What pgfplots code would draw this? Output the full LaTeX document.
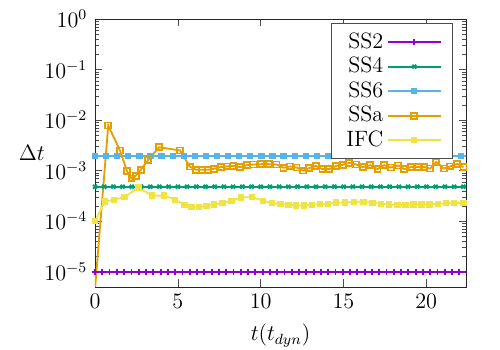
\documentclass[12pt,border=0pt]{standalone}
\usepackage{pgfplots}
\pgfplotsset{compat=1.18}
\definecolor{cSSii}{HTML}{9400D3}
\definecolor{cSSiv}{HTML}{009E73}
\definecolor{cSSvi}{HTML}{56B4E9}
\definecolor{cSSa}{HTML}{E69F00}
\definecolor{cIFC}{HTML}{F0E442}

\begin{document}
\begin{tikzpicture}
\begin{axis}[
  scale only axis,
  width=7.05cm, height=5.09cm,
  ymode=log,
  xmin=0, xmax=22.4,
  ymin=5e-6, ymax=1,
  xtick={0,5,10,15,20},
  ytick={1e-5,1e-4,1e-3,1e-2,1e-1,1},
  tick align=inside,
  tick style={black!70},
  major tick length=4pt, minor tick length=2pt,
  axis line style={black!85},
  xlabel={$t(t_{dyn})$},
  ylabel={$\Delta t$},
  ylabel style={rotate=-90, at={(rel axis cs:0,0.5)}, anchor=center, xshift=-1.2cm},
  xlabel style={yshift=0pt},
  legend style={at={(rel axis cs:0.965,0.985)}, anchor=north east,
    draw=black!70, row sep=-1pt, inner xsep=6pt, inner ysep=3pt},
  legend cell align=right,
  legend plot pos=right,
  legend image code/.code={\draw[mark repeat=2,mark phase=2] plot coordinates {(0cm,0cm) (0.5cm,0cm) (1.0cm,0cm)};},
]
% SS2
\addplot[cSSii, line width=1pt, mark=+, mark size=1.7pt] coordinates {
 (0,1e-5) (0.44,1e-5) (0.88,1e-5) (1.32,1e-5) (1.76,1e-5) (2.2,1e-5) (2.64,1e-5)
 (3.08,1e-5) (3.52,1e-5) (3.96,1e-5) (4.4,1e-5) (4.84,1e-5) (5.28,1e-5) (5.72,1e-5)
 (6.16,1e-5) (6.6,1e-5) (7.04,1e-5) (7.48,1e-5) (7.92,1e-5) (8.36,1e-5) (8.8,1e-5)
 (9.24,1e-5) (9.68,1e-5) (10.12,1e-5) (10.56,1e-5) (11,1e-5) (11.44,1e-5) (11.88,1e-5)
 (12.32,1e-5) (12.76,1e-5) (13.2,1e-5) (13.64,1e-5) (14.08,1e-5) (14.52,1e-5) (14.96,1e-5)
 (15.4,1e-5) (15.84,1e-5) (16.28,1e-5) (16.72,1e-5) (17.16,1e-5) (17.6,1e-5) (18.04,1e-5)
 (18.48,1e-5) (18.92,1e-5) (19.36,1e-5) (19.8,1e-5) (20.24,1e-5) (20.68,1e-5) (21.12,1e-5)
 (21.56,1e-5) (22,1e-5) (22.44,1e-5)
};
\addlegendentry{SS2}
% SS4
\addplot[cSSiv, line width=1pt, mark=x, mark size=1.5pt] coordinates {
 (0,4.8e-4) (0.556,4.8e-4) (1.112,4.8e-4) (1.668,4.8e-4) (2.224,4.8e-4) (2.78,4.8e-4)
 (3.336,4.8e-4) (3.892,4.8e-4) (4.448,4.8e-4) (5.004,4.8e-4) (5.56,4.8e-4) (6.116,4.8e-4)
 (6.672,4.8e-4) (7.228,4.8e-4) (7.784,4.8e-4) (8.34,4.8e-4) (8.896,4.8e-4) (9.452,4.8e-4)
 (10.008,4.8e-4) (10.564,4.8e-4) (11.12,4.8e-4) (11.676,4.8e-4) (12.232,4.8e-4) (12.788,4.8e-4)
 (13.344,4.8e-4) (13.9,4.8e-4) (14.456,4.8e-4) (15.012,4.8e-4) (15.568,4.8e-4) (16.124,4.8e-4)
 (16.68,4.8e-4) (17.236,4.8e-4) (17.792,4.8e-4) (18.348,4.8e-4) (18.904,4.8e-4) (19.46,4.8e-4)
 (20.016,4.8e-4) (20.572,4.8e-4) (21.128,4.8e-4) (21.684,4.8e-4) (22.24,4.8e-4) (22.796,4.8e-4)
};
\addlegendentry{SS4}
% SS6
\addplot[cSSvi, line width=1pt, mark=square*, mark size=1.2pt] coordinates {
 (0,1.95e-3) (0.67,1.95e-3) (1.34,1.95e-3) (2.01,1.95e-3) (2.68,1.95e-3) (3.35,1.95e-3)
 (4.02,1.95e-3) (4.69,1.95e-3) (5.36,1.95e-3) (6.03,1.95e-3) (6.7,1.95e-3) (7.37,1.95e-3)
 (8.04,1.95e-3) (8.71,1.95e-3) (9.38,1.95e-3) (10.05,1.95e-3) (10.72,1.95e-3) (11.39,1.95e-3)
 (12.06,1.95e-3) (12.73,1.95e-3) (13.4,1.95e-3) (14.07,1.95e-3) (14.74,1.95e-3) (15.41,1.95e-3)
 (16.08,1.95e-3) (16.75,1.95e-3) (17.42,1.95e-3) (18.09,1.95e-3) (18.76,1.95e-3) (19.43,1.95e-3)
 (20.1,1.95e-3) (20.77,1.95e-3) (21.44,1.95e-3) (22.11,1.95e-3) (22.78,1.95e-3)
};
\addlegendentry{SS6}
% SSa
\addplot[cSSa, line width=1pt, mark=square, mark size=1.6pt] coordinates {
 (0,4.5e-6) (0.80,7.8e-3) (1.51,2.5e-3) (1.93,9.8e-4) (2.21,7.0e-4) (2.46,7.9e-4)
 (2.76,1.04e-3) (3.20,1.61e-3) (3.87,2.9e-3) (5.14,2.5e-3) (5.72,1.2e-3) (6.10,1.04e-3)
 (6.47,1.04e-3) (6.81,1.04e-3) (7.19,1.09e-3) (7.59,1.17e-3) (7.96,1.21e-3) (8.36,1.24e-3)
 (8.76,1.17e-3) (9.17,1.28e-3) (9.57,1.32e-3) (10.03,1.34e-3) (10.51,1.34e-3) (10.96,1.32e-3)
 (11.38,1.14e-3) (11.78,1.21e-3) (12.17,1.15e-3) (12.57,1.0e-3) (12.93,1.12e-3) (13.33,1.24e-3)
 (13.73,1.07e-3) (14.14,1.07e-3) (14.56,1.24e-3) (14.96,1.30e-3) (15.35,1.43e-3) (15.77,1.32e-3)
 (16.17,1.17e-3) (16.62,1.28e-3) (17.06,1.07e-3) (17.46,1.28e-3) (17.87,1.15e-3) (18.31,1.26e-3)
 (18.67,1.07e-3) (19.08,1.17e-3) (19.49,1.17e-3) (19.90,1.17e-3) (20.24,1.10e-3) (20.60,1.49e-3)
 (21.05,1.10e-3) (21.45,1.21e-3) (21.87,1.36e-3) (22.25,1.17e-3)
};
\addlegendentry{SSa}
% IFC
\addplot[cIFC, line width=1pt, mark=square*, mark size=1.2pt] coordinates {
 (0,9.9e-5) (0.60,2.45e-4) (1.15,2.65e-4) (1.79,3.0e-4) (2.62,4.6e-4) (3.44,3.2e-4)
 (4.17,3.2e-4) (4.85,2.65e-4) (5.40,2.1e-4) (5.82,1.93e-4) (6.28,1.93e-4) (6.73,1.99e-4)
 (7.19,2.14e-4) (7.69,2.28e-4) (8.24,2.53e-4) (8.82,2.94e-4) (9.50,3.0e-4) (10.13,2.53e-4)
 (10.68,2.28e-4) (11.20,2.17e-4) (11.68,2.1e-4) (12.15,2.04e-4) (12.61,2.04e-4) (13.09,2.1e-4)
 (13.60,2.17e-4) (14.08,2.2e-4) (14.56,2.34e-4) (15.11,2.34e-4) (15.65,2.42e-4) (16.21,2.42e-4)
 (16.76,2.3e-4) (17.26,2.2e-4) (17.76,2.14e-4) (18.27,2.08e-4) (18.75,2.08e-4) (19.23,2.14e-4)
 (19.72,2.14e-4) (20.2,2.14e-4) (20.70,2.2e-4) (21.21,2.27e-4) (21.69,2.27e-4) (22.25,2.27e-4)
};
\addlegendentry{IFC}
\end{axis}
\pgfresetboundingbox
\path ([shift={(-1.805cm,-1.197cm)}]current axis.south west) rectangle ([shift={(0.646cm,0.361cm)}]current axis.north east);
\end{tikzpicture}
\end{document}
